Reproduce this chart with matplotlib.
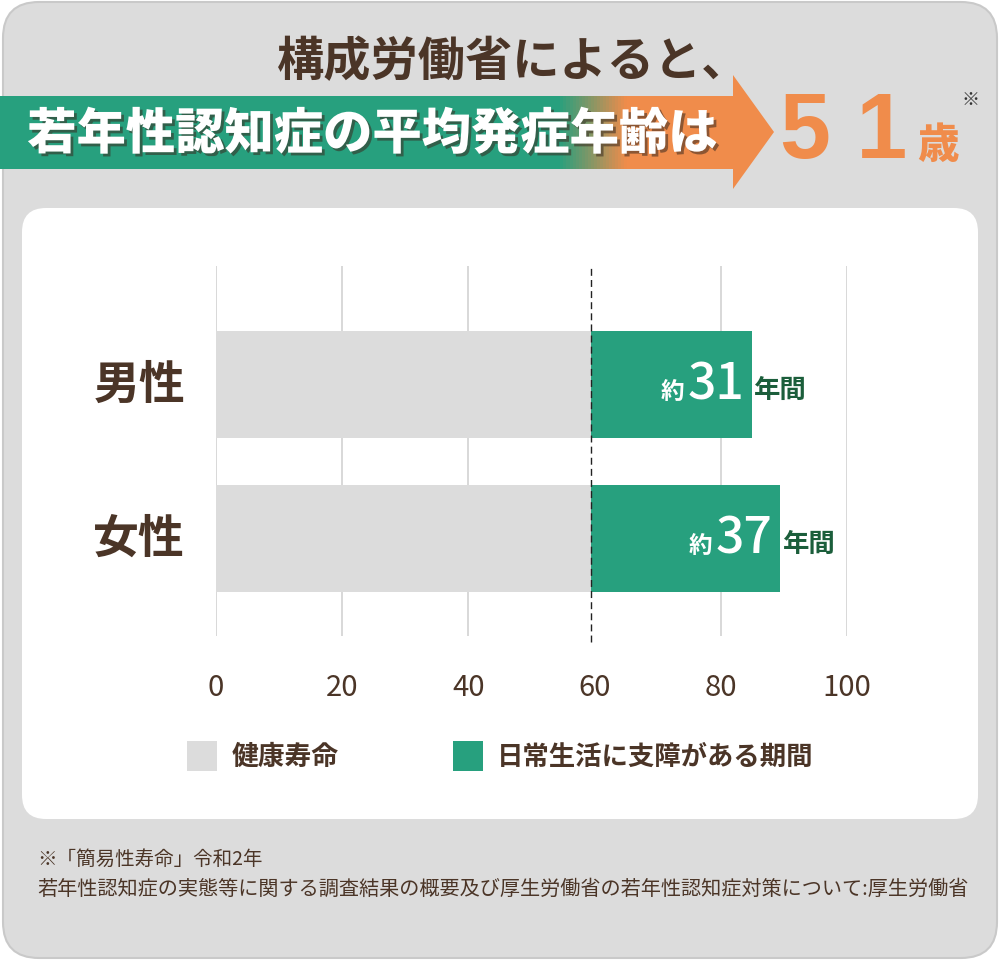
import matplotlib
matplotlib.use("Agg")
import matplotlib.pyplot as plt
import matplotlib.patheffects as pe
from matplotlib.patches import FancyBboxPatch, Polygon
from matplotlib.colors import LinearSegmentedColormap
import numpy as np

plt.rcParams['font.family'] = ['Noto Sans CJK JP', 'DejaVu Sans']

# ---- data ----
categories = ["男性", "女性"]
healthy = [59.4, 59.4]            # 健康寿命 (gray)
impaired = [25.5, 30.0]           # 日常生活に支障がある期間 (green, drawn length)
impaired_labels = ["31", "37"]
xticks = [0, 20, 40, 60, 80, 100]
legend_labels = ["健康寿命", "日常生活に支障がある期間"]
title_line1 = "構成労働省によると、"
title_line2 = "若年性認知症の平均発症年齢は"
onset_age = "51"
footnote1 = "※「簡易性寿命」令和2年"
footnote2 = "若年性認知症の実態等に関する調査結果の概要及び厚生労働省の若年性認知症対策について:厚生労働省"

BROWN = "#4b3527"
GREEN = "#27a07e"
GRAY = "#dcdcdc"
ORANGE = "#f08c4b"
DKGREEN = "#1b5e3b"

W, H = 1000, 962
fig = plt.figure(figsize=(W / 100, H / 100), dpi=100)
fig.patch.set_facecolor("white")

# background axes in pixel coordinates
bg = fig.add_axes([0, 0, 1, 1])
bg.set_xlim(0, W)
bg.set_ylim(H, 0)
bg.axis("off")

outer = FancyBboxPatch((3, 3), 994, 956, boxstyle="round,pad=0,rounding_size=36",
                       fc=GRAY, ec="#c9c9c9", lw=1.5)
bg.add_patch(outer)
panel = FancyBboxPatch((22, 209), 956, 611, boxstyle="round,pad=0,rounding_size=24",
                       fc="white", ec="none")
bg.add_patch(panel)

# title
bg.text(513, 62, title_line1, ha="center", va="center", fontsize=34,
        fontweight="bold", color=BROWN)

# gradient arrow banner
arrow_pts = [(0, 97), (733, 97), (733, 76), (774, 133), (733, 190), (733, 170), (0, 170)]
arrow = Polygon(arrow_pts, closed=True, fc="none", ec="none")
bg.add_patch(arrow)
cmap = LinearSegmentedColormap.from_list("g", [(0, GREEN), (560 / 780, GREEN),
                                                (628 / 780, ORANGE), (1, ORANGE)])
grad = np.linspace(0, 1, 780).reshape(1, -1)
im = bg.imshow(grad, extent=(0, 780, 190, 76), cmap=cmap, aspect="auto", zorder=2)
im.set_clip_path(arrow)
bg.set_xlim(0, W)
bg.set_ylim(H, 0)

bg.text(372, 135, title_line2, ha="center", va="center", fontsize=35.5,
        fontweight="heavy", color="white", zorder=3,
        path_effects=[pe.SimplePatchShadow(offset=(2, -2), shadow_rgbFace="#3a2a20", alpha=0.55),
                      pe.Normal()])

bg.text(844, 134, onset_age[0] + " " + onset_age[1], ha="center", va="center", fontsize=66,
        fontweight="bold", color=ORANGE, family=["Liberation Sans", "DejaVu Sans"])
bg.text(938, 146, "歳", ha="center", va="center", fontsize=30, fontweight="heavy", color=ORANGE)
bg.text(970, 100, "※", ha="center", va="center", fontsize=13, color="#333333")

# chart axes
x0, x1 = 216, 847
ytop, ybot = 267, 637
ax = fig.add_axes([x0 / W, 1 - ybot / H, (x1 - x0) / W, (ybot - ytop) / H])
ax.set_xlim(0, 100)
ax.set_ylim(1.633, -0.77)
ax.set_facecolor("none")
for s in ax.spines.values():
    s.set_visible(False)

for t in xticks:
    if t != 60:
        ax.axvline(t, color="#d2d2d2", lw=1.2, zorder=0)

y = np.arange(len(categories))
bar_h = 0.695
ax.barh(y, healthy, height=bar_h, color=GRAY, zorder=1)
ax.barh(y, impaired, left=healthy, height=bar_h, color=GREEN, zorder=1)
ax.axvline(healthy[0], ymin=-0.016, ymax=1, color="#222222", lw=1.0,
           ls=(0, (5, 3)), zorder=3, clip_on=False)

ax.set_xticks(xticks)
ax.set_xticklabels([str(t) for t in xticks])
ax.tick_params(axis="x", length=0, pad=26, labelsize=21, labelcolor=BROWN)
ax.set_yticks([])

for i, cat in enumerate(categories):
    ax.text(-4.9, y[i], cat, ha="right", va="center", fontsize=33, fontweight="bold",
            color=BROWN)
    end = healthy[i] + impaired[i]
    ax.text(end - 1.2, y[i] + 0.0, impaired_labels[i], ha="right", va="center",
            fontsize=36, color="white", fontweight="medium")
    ax.text(end - 10.7, y[i] + 0.04, "約", ha="right", va="center",
            fontsize=17, color="white", fontweight="bold")
    ax.text(end + 0.4, y[i] + 0.03, "年間", ha="left", va="center",
            fontsize=19, color=DKGREEN, fontweight="bold")

# legend (manual, in pixel coords)
bg.add_patch(plt.Rectangle((187, 742), 30, 30, fc=GRAY, ec="none"))
bg.text(232, 757, legend_labels[0], ha="left", va="center", fontsize=19.3,
        fontweight="bold", color=BROWN)
bg.add_patch(plt.Rectangle((453, 742), 30, 30, fc=GREEN, ec="none"))
bg.text(497, 757, legend_labels[1], ha="left", va="center", fontsize=19,
        fontweight="bold", color=BROWN)

# footnotes
bg.text(37, 859, footnote1, ha="left", va="center", fontsize=14, color=BROWN)
bg.text(37, 889, footnote2, ha="left", va="center", fontsize=14.5, color=BROWN)

fig.savefig("out.png", dpi=100)
